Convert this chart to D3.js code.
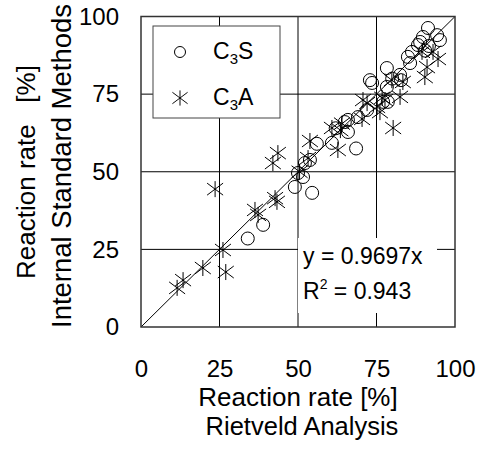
<!DOCTYPE html>
<html>
<head>
<meta charset="utf-8">
<script src="https://cdn.jsdelivr.net/npm/d3@7"></script>
<style>
  body { margin: 0; background: #fff; }
  svg text { font-family: "Liberation Sans", Arial, sans-serif; fill: #000; }
</style>
</head>
<body>
<div id="chart"></div>
<script>
// DATA (Rietveld analysis vs internal standard method)
const ticks = [0, 25, 50, 75, 100];

const c3sX = [34.0, 38.9, 49.0, 54.5, 52.2, 51.6, 50.0, 53.8, 60.8, 65.9, 65.9, 64.9, 69.1, 68.5, 73.6, 72.9, 77.1, 78.6, 78.3, 78.3, 72.0, 82.5, 82.8, 85.0, 85.7, 86.3, 88.2, 88.9, 89.8, 91.4, 94.3, 95.2, 91.7, 90.5, 62.0, 56.0, 80.0];
const c3sY = [28.5, 32.9, 45.1, 43.2, 52.8, 48.3, 49.6, 53.8, 59.3, 62.8, 66.7, 66.0, 67.6, 57.5, 78.6, 79.5, 72.5, 72.5, 83.4, 77.3, 69.9, 81.2, 79.5, 87.0, 85.0, 88.6, 90.8, 91.8, 93.4, 96.3, 94.0, 92.4, 90.5, 89.0, 64.0, 59.0, 80.0];

const c3aX = [11.5, 13.4, 19.7, 26.1, 27.0, 23.6, 36.3, 37.3, 42.7, 43.3, 42.0, 43.6, 50.5, 53.2, 53.8, 60.8, 62.7, 63.5, 64.0, 70.4, 72.0, 75.2, 70.7, 76.1, 76.8, 77.7, 82.5, 83.4, 79.9, 80.3, 90.4, 89.5, 91.1, 94.6, 93.0];
const c3aY = [12.6, 15.1, 19.0, 24.8, 17.7, 44.4, 37.7, 36.1, 41.5, 40.3, 52.8, 56.0, 50.0, 54.4, 59.9, 64.1, 57.0, 63.4, 65.5, 67.0, 72.1, 70.9, 73.1, 69.2, 73.8, 73.1, 74.1, 78.9, 79.5, 64.1, 80.5, 88.6, 83.7, 86.3, 88.6];

const slope = 0.9697, r2 = 0.943;

// chart size
const W = 479, H = 449;
const pLeft = 141, pRight = 455, pTop = 16.5, pBottom = 327;

const svg = d3.select("#chart").append("svg")
    .attr("width", W).attr("height", H);

const x = d3.scaleLinear().domain([0, 100]).range([pLeft, pRight]);
const y = d3.scaleLinear().domain([0, 100]).range([pBottom, pTop]);

// grid
const grid = svg.append("g");
grid.selectAll(".gx").data(ticks.slice(1, 4)).enter().append("line")
    .attr("x1", d => x(d)).attr("x2", d => x(d))
    .attr("y1", pTop).attr("y2", pBottom)
    .attr("stroke", "#000").attr("stroke-width", 1);
grid.selectAll(".gy").data(ticks.slice(1, 4)).enter().append("line")
    .attr("y1", d => y(d)).attr("y2", d => y(d))
    .attr("x1", pLeft).attr("x2", pRight)
    .attr("stroke", "#000").attr("stroke-width", 1);

// 1:1 line
svg.append("line")
    .attr("x1", x(0)).attr("y1", y(0)).attr("x2", x(100)).attr("y2", y(100))
    .attr("stroke", "#000").attr("stroke-width", 1);

// points
const star = "M0,-8V8M-8,-6L8,6M-8,6L8,-6";
svg.append("g").selectAll("path").data(d3.range(c3aX.length)).enter().append("path")
    .attr("d", star)
    .attr("transform", i => `translate(${x(c3aX[i])},${y(c3aY[i])})`)
    .attr("fill", "none").attr("stroke", "#000").attr("stroke-width", 1);

svg.append("g").selectAll("circle").data(d3.range(c3sX.length)).enter().append("circle")
    .attr("cx", i => x(c3sX[i])).attr("cy", i => y(c3sY[i])).attr("r", 6.5)
    .attr("fill", "none").attr("stroke", "#000").attr("stroke-width", 1);

// frame
svg.append("rect")
    .attr("x", pLeft).attr("y", pTop).attr("width", pRight - pLeft).attr("height", pBottom - pTop)
    .attr("fill", "none").attr("stroke", "#333").attr("stroke-width", 1.5);

// axes (labels only)
const xAxis = d3.axisBottom(x).tickValues(ticks).tickSize(0).tickPadding(33);
const gx = svg.append("g").attr("transform", `translate(0,${pBottom})`).call(xAxis);
const yAxis = d3.axisLeft(y).tickValues(ticks).tickSize(0).tickPadding(22);
const gy = svg.append("g").attr("transform", `translate(${pLeft},0)`).call(yAxis);
[gx, gy].forEach(g => {
  g.select(".domain").remove();
  g.selectAll("text").attr("font-size", 24).attr("font-family", "Liberation Sans, Arial, sans-serif");
});

// axis titles
svg.append("text").attr("x", 298).attr("y", 406).attr("text-anchor", "middle")
    .attr("font-size", 26).text("Reaction rate [%]");
svg.append("text").attr("x", 302).attr("y", 435).attr("text-anchor", "middle")
    .attr("font-size", 25.5).text("Rietveld Analysis");

svg.append("text").attr("transform", "translate(35,172) rotate(-90)")
    .attr("text-anchor", "middle").attr("font-size", 26).style("white-space", "pre")
    .text("Reaction rate   [%]");
svg.append("text").attr("transform", "translate(71,328) rotate(-90)")
    .attr("text-anchor", "start").attr("font-size", 27.5)
    .text("Internal Standard Methods");

// regression box
svg.append("rect").attr("x", 298).attr("y", 238).attr("width", 139).attr("height", 75)
    .attr("fill", "#fff");
svg.append("text").attr("x", 303).attr("y", 264).attr("font-size", 23)
    .text("y = " + slope + "x");
const rt = svg.append("text").attr("x", 303).attr("y", 299).attr("font-size", 23);
rt.append("tspan").text("R");
rt.append("tspan").attr("font-size", 14).attr("dy", -10).text("2");
rt.append("tspan").attr("dy", 10).text(" = " + r2);

// legend
const lg = svg.append("g");
lg.append("rect").attr("x", 153).attr("y", 26).attr("width", 127).attr("height", 92)
    .attr("fill", "#fff").attr("stroke", "#444").attr("stroke-width", 1);
lg.append("circle").attr("cx", 180).attr("cy", 52).attr("r", 5.5)
    .attr("fill", "none").attr("stroke", "#000");
lg.append("path").attr("d", star).attr("transform", "translate(180,98) scale(0.95)")
    .attr("fill", "none").attr("stroke", "#000").attr("stroke-width", 1);
const legendNames = [["C", "3", "S"], ["C", "3", "A"]];
legendNames.forEach((p, i) => {
  const t = lg.append("text").attr("x", 213).attr("y", 59 + i * 46).attr("font-size", 23);
  t.append("tspan").text(p[0]);
  t.append("tspan").attr("font-size", 15).attr("dy", 5).text(p[1]);
  t.append("tspan").attr("dy", -5).text(p[2]);
});
</script>
</body>
</html>
